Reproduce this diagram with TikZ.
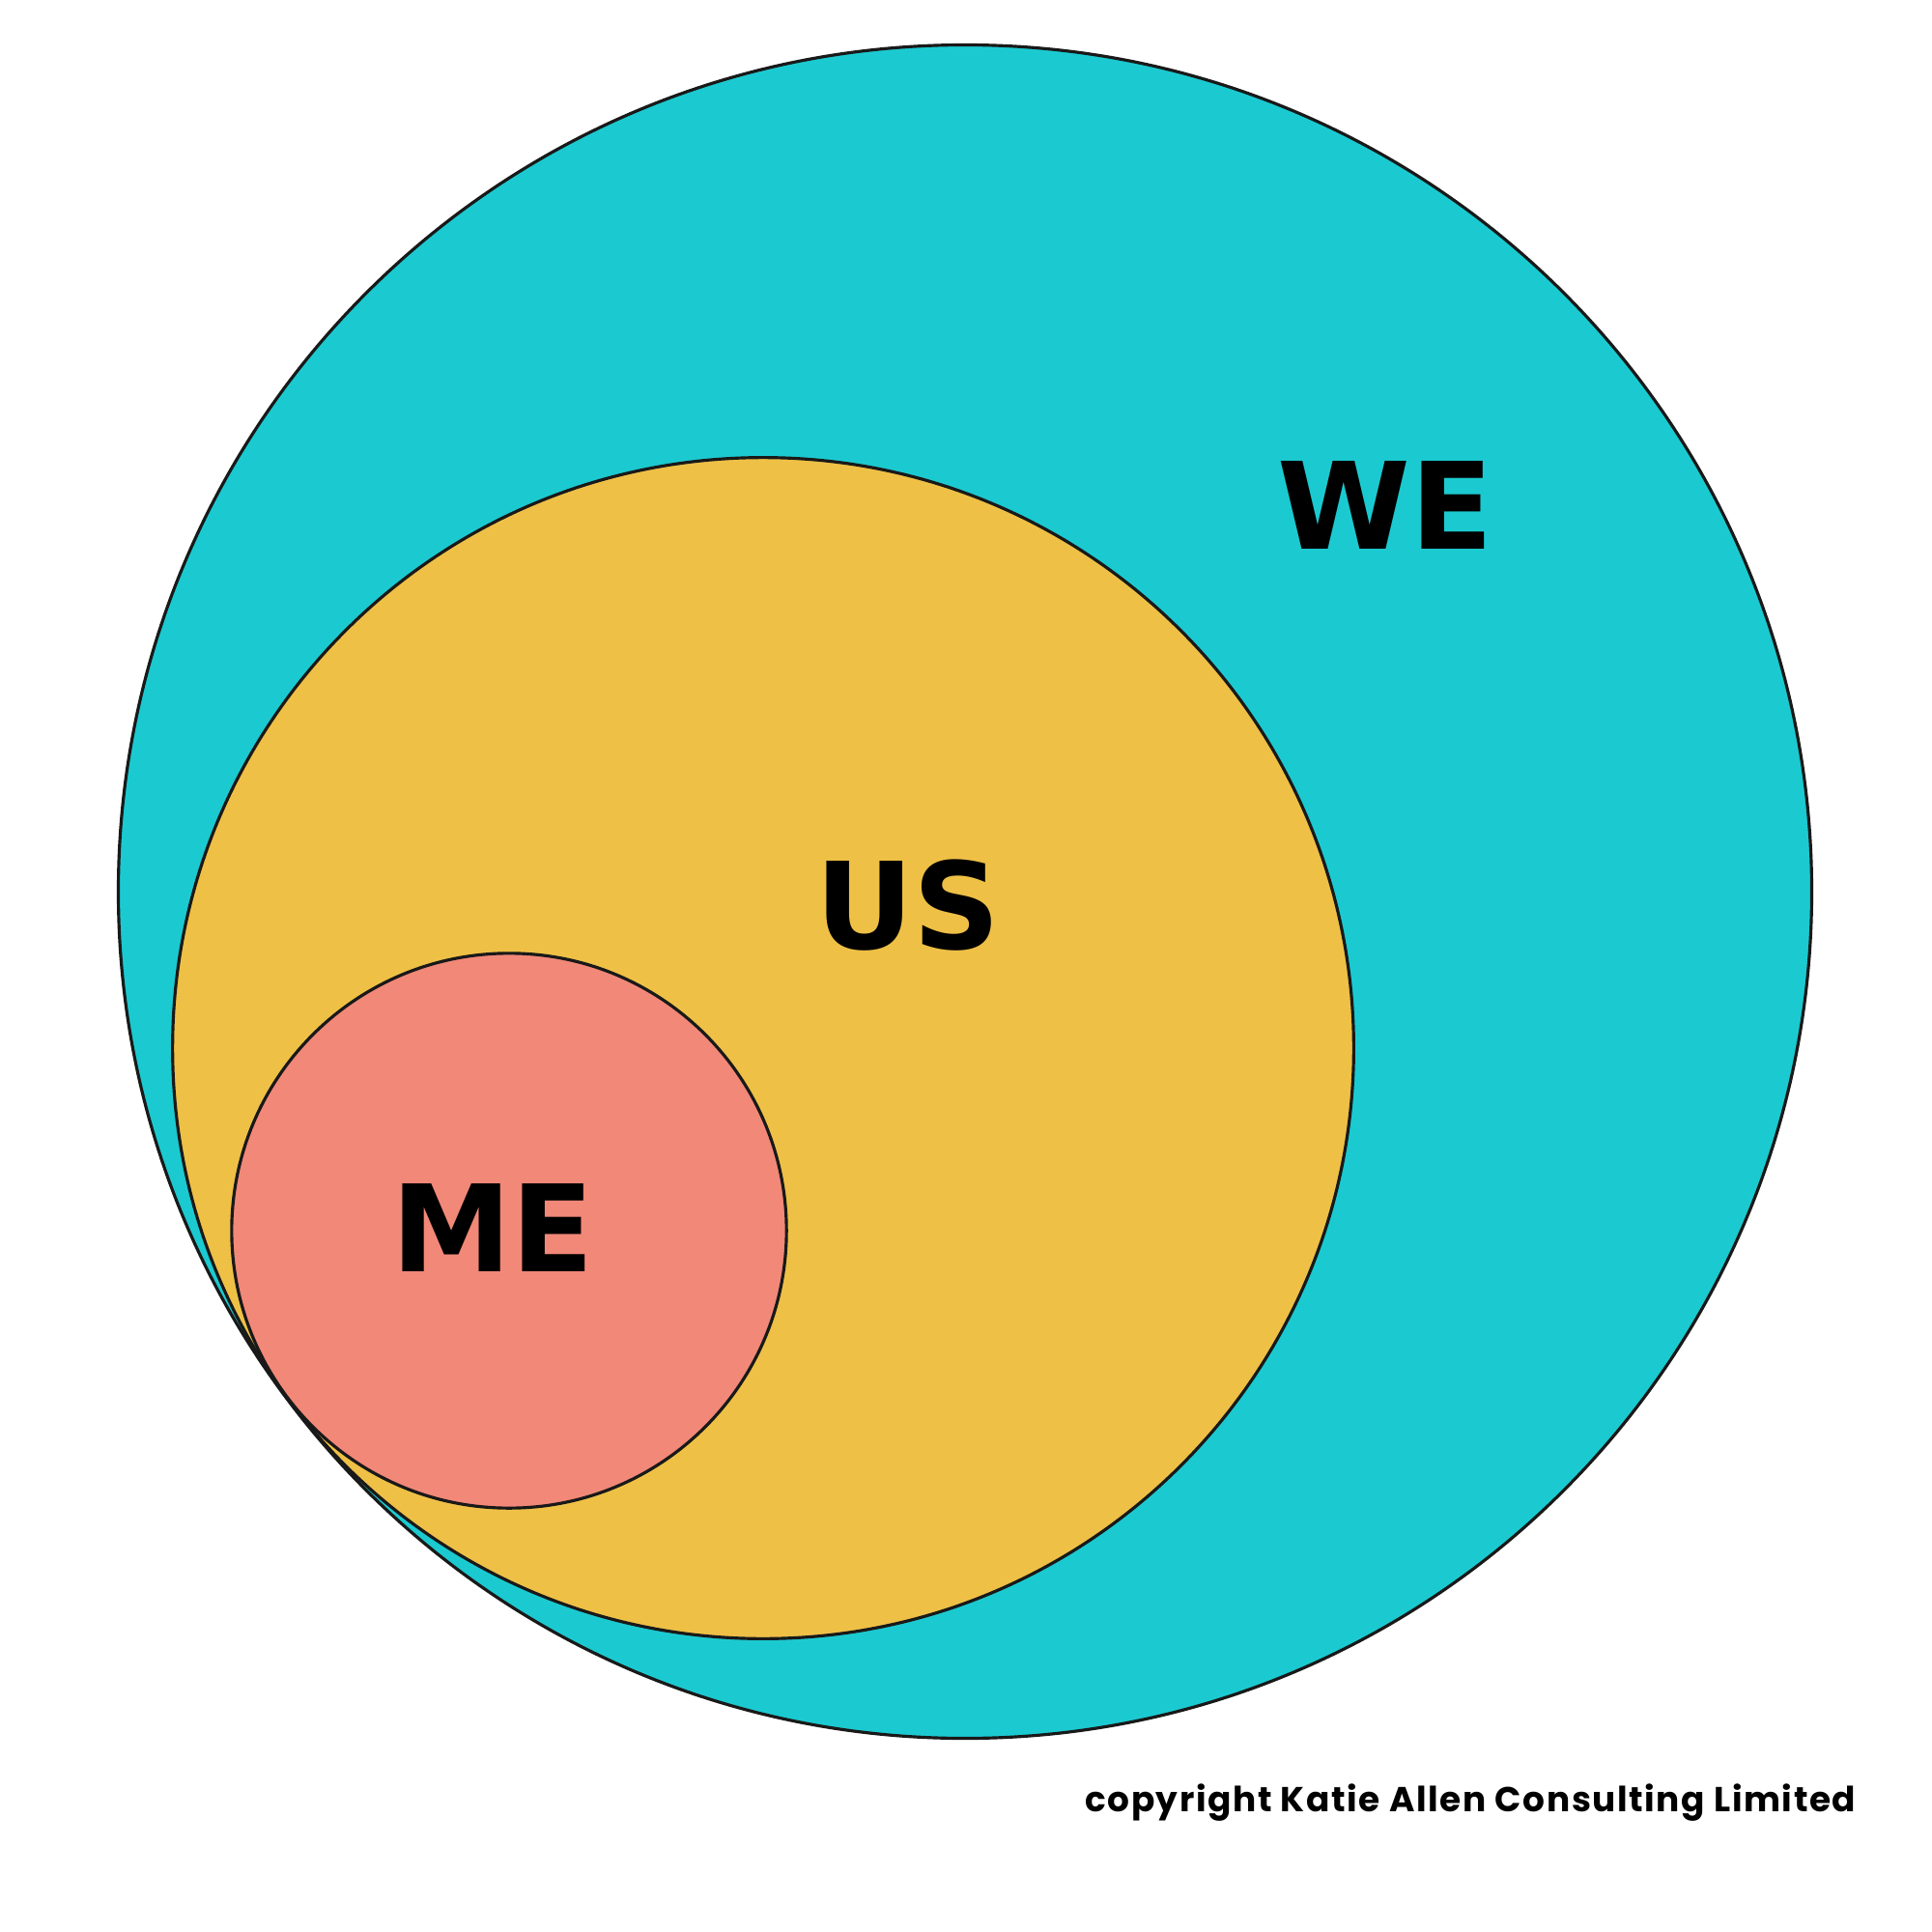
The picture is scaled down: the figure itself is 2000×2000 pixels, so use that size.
\documentclass[tikz,border=0pt]{standalone}
\usepackage{fontspec}
\setmainfont{Poppins}
\newfontfamily\labelfont{DejaVu Sans}
\definecolor{weteal}{HTML}{1BCAD0}
\definecolor{usyellow}{HTML}{EEC046}
\definecolor{mesalmon}{HTML}{F28878}

\begin{document}
\begin{tikzpicture}[x=0.01cm,y=-0.01cm]
    \tikzset{
        ring/.style={
            circle,draw=black!90,line width=0.9pt,inner sep=0pt
        },
        wering/.style={ring,fill=weteal,minimum size=17.52cm},
        usring/.style={ring,fill=usyellow,minimum size=12.22cm},
        mering/.style={ring,fill=mesalmon,minimum size=5.74cm},
        label/.style={font=\labelfont\fontsize{35.5}{40}\selectfont\bfseries}
    }
    \useasboundingbox[fill=white] (0,0) rectangle (2000,2000);

    \node[wering] (we) at (999,923) {};
    \node[usring] (us) at (790,1085) {};
    \node[mering] (me) at (527,1274) {};

    \node[label] (we-text) at (1434,523) {WE};
    \node[label] (us-text) at (940,937) {US};
    \node[label] (me-text) at (510,1271) {ME};

    \node[font=\addfontfeatures{LetterSpace=4.5}\fontsize{10.2}{12}\selectfont\bfseries,
        anchor=east,inner sep=0pt]
        (credit) at (1922,1866) {copyright Katie Allen Consulting Limited};
\end{tikzpicture}
\end{document}
